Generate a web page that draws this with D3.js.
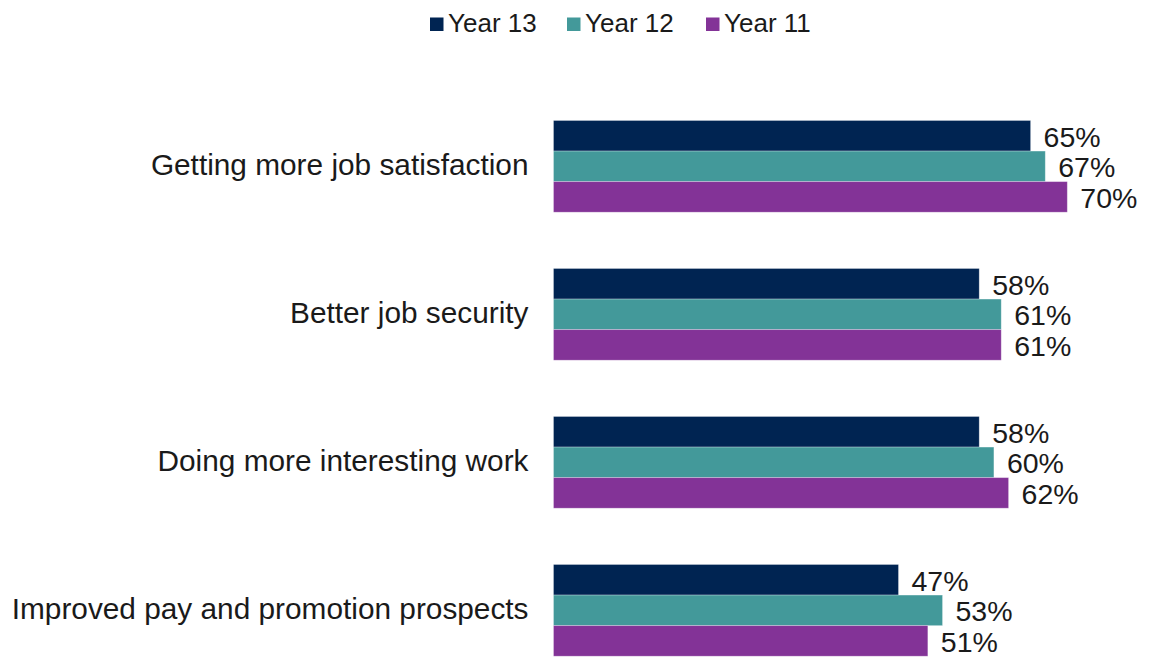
<!DOCTYPE html>
<html>
<head>
<meta charset="utf-8">
<script src="https://cdn.jsdelivr.net/npm/d3@7"></script>
<style>
  html, body { margin: 0; padding: 0; background: #ffffff; }
  svg { display: block; font-family: "Liberation Sans", Arial, sans-serif; }
</style>
</head>
<body>
<svg id="chart" width="1153" height="657"></svg>
<script>
// Reasons given, one group of bars per reason
const categories = [
  "Getting more job satisfaction",
  "Better job security",
  "Doing more interesting work",
  "Improved pay and promotion prospects"
];
const seriesNames = ["Year 13", "Year 12", "Year 11"];
const year13 = [65, 58, 58, 47];
const year12 = [67, 61, 60, 53];
const year11 = [70, 61, 62, 51];
const seriesColors = ["#002452", "#43999a", "#833397"];

const seriesValues = [year13, year12, year11];

const svg = d3.select("#chart");

const x = d3.scaleLinear().domain([0, 100]).range([553.5, 1287.5]);

const y = d3.scaleBand()
  .domain(categories)
  .range([92.35, 92.35 + 148 * categories.length])
  .paddingInner(0.3804)
  .paddingOuter(0.1902);

const ySeries = d3.scaleBand()
  .domain(seriesNames)
  .range([0, y.bandwidth()]);

const color = d3.scaleOrdinal().domain(seriesNames).range(seriesColors);

// Flatten into one record per bar
const rows = [];
categories.forEach((c, i) => {
  seriesNames.forEach((s, j) => {
    rows.push({ category: c, series: s, value: seriesValues[j][i] });
  });
});

const groups = svg.append("g")
  .selectAll("g")
  .data(categories)
  .join("g")
  .attr("transform", d => `translate(0,${y(d)})`);

groups.selectAll("rect")
  .data(c => rows.filter(r => r.category === c))
  .join("rect")
  .attr("x", x(0))
  .attr("y", d => ySeries(d.series))
  .attr("width", d => x(d.value) - x(0))
  .attr("height", ySeries.bandwidth())
  .attr("fill", d => color(d.series))
  .attr("stroke", "#ffffff")
  .attr("stroke-opacity", 0.35)
  .attr("stroke-width", 0.8);

groups.selectAll("text.value")
  .data(c => rows.filter(r => r.category === c))
  .join("text")
  .attr("class", "value")
  .attr("x", d => x(d.value) + 13)
  .attr("y", d => ySeries(d.series) + ySeries.bandwidth() / 2 + 1)
  .attr("dy", "0.35em")
  .attr("font-size", 28.5)
  .attr("fill", "#1a1a1a")
  .text(d => d.value + "%");

// Category axis labels, right-aligned against the bars
const yAxis = d3.axisLeft(y).tickSize(0).tickPadding(25);
const axisG = svg.append("g")
  .attr("transform", `translate(${x(0)},0)`)
  .call(yAxis);
axisG.select(".domain").remove();
axisG.selectAll("text")
  .attr("font-family", "\"Liberation Sans\", Arial, sans-serif")
  .attr("font-size", 29.8)
  .attr("fill", "#1a1a1a")
  .attr("dy", "0.3em");

// Legend across the top
const legendX = [430, 567, 706];
const legend = svg.append("g")
  .selectAll("g")
  .data(seriesNames)
  .join("g")
  .attr("transform", (d, i) => `translate(${legendX[i]},0)`);

legend.append("rect")
  .attr("x", 0)
  .attr("y", 17.5)
  .attr("width", 13.5)
  .attr("height", 13.5)
  .attr("fill", d => color(d));

legend.append("text")
  .attr("x", 18)
  .attr("y", 31.5)
  .attr("font-size", 26)
  .attr("fill", "#1a1a1a")
  .text(d => d);
</script>
</body>
</html>
